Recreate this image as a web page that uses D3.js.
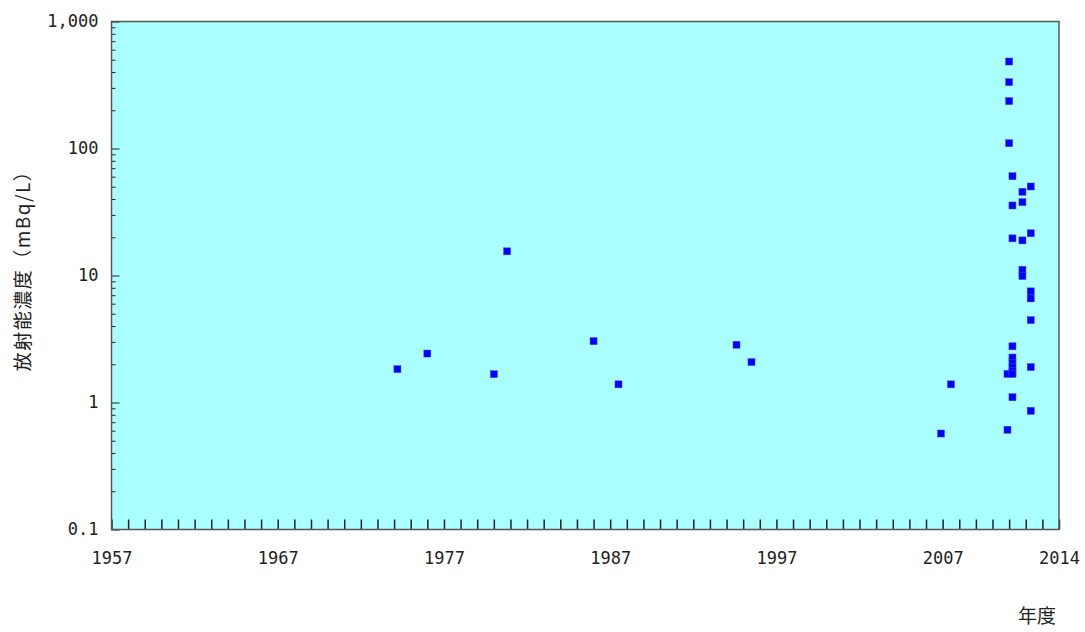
<!DOCTYPE html>
<html>
<head>
<meta charset="utf-8">
<script src="https://cdn.jsdelivr.net/npm/d3@7"></script>
<style>
  body { margin: 0; background: #fff; }
  .num text { font-family: "DejaVu Sans Mono", monospace; font-size: 17px; fill: #222; }
  .jp { font-family: "Noto Sans CJK JP", sans-serif; fill: #222; }
</style>
</head>
<body>
<div id="chart"></div>
<script>
// measurement year (fiscal, decimal) and activity concentration (mBq/L)
const years = [
  1974.2, 1976.0, 1980.0, 1980.8, 1986.0, 1987.5, 1994.6, 1995.5,
  2006.9, 2007.5,
  2010.9, 2010.9,
  2011.0, 2011.0, 2011.0, 2011.0,
  2011.2, 2011.2, 2011.2, 2011.2, 2011.2, 2011.2, 2011.2, 2011.2, 2011.2, 2011.2,
  2011.8, 2011.8, 2011.8, 2011.8, 2011.8,
  2012.3, 2012.3, 2012.3, 2012.3, 2012.3, 2012.3, 2012.3
];
const values = [
  1.83, 2.43, 1.67, 15.5, 3.04, 1.39, 2.85, 2.08,
  0.57, 1.39,
  0.61, 1.68,
  484, 333, 236, 110,
  60.5, 35.6, 19.6, 2.77, 2.26, 2.05, 1.9, 1.76, 1.68, 1.1,
  45.6, 37.8, 18.9, 11.1, 9.9,
  50.2, 21.5, 7.5, 6.6, 4.45, 1.9, 0.86
];
const xLabelYears = [1957, 1967, 1977, 1987, 1997, 2007, 2014];
const yLabelValues = [0.1, 1, 10, 100, 1000];

const width = 1085, height = 632;
const margin = {top: 21.5, right: 26, bottom: 102.5, left: 111.5};

const svg = d3.select("#chart").append("svg")
    .attr("width", width)
    .attr("height", height);

const x = d3.scaleLinear()
    .domain([1957, 2014])
    .range([margin.left, width - margin.right]);

const y = d3.scaleLog()
    .domain([0.1, 1000])
    .range([height - margin.bottom, margin.top]);

// plot background
svg.append("rect")
    .attr("x", margin.left)
    .attr("y", margin.top)
    .attr("width", width - margin.right - margin.left)
    .attr("height", height - margin.bottom - margin.top)
    .attr("fill", "#aaffff");

// minor y ticks (2..9 in each decade)
const minorVals = [];
for (let p = -1; p < 3; p++) {
    for (let m = 2; m <= 9; m++) minorVals.push(m * Math.pow(10, p));
}
svg.append("g")
    .attr("transform", `translate(${margin.left},0)`)
    .call(d3.axisLeft(y).tickValues(minorVals).tickSize(-4).tickFormat(""))
    .call(g => g.select(".domain").remove())
    .selectAll("line").attr("stroke", "#222");

// major y ticks with labels
svg.append("g")
    .attr("class", "num")
    .attr("transform", `translate(${margin.left},0)`)
    .call(d3.axisLeft(y).tickValues(yLabelValues).tickSize(-8).tickPadding(13)
        .tickFormat(d => d >= 1 ? d3.format(",")(d) : d))
    .call(g => g.select(".domain").remove())
    .call(g => g.selectAll("line").attr("stroke", "#222"))
    .call(g => g.selectAll("text").attr("font-family", null).attr("font-size", null));

// yearly x ticks pointing inward
svg.append("g")
    .attr("transform", `translate(0,${height - margin.bottom})`)
    .call(d3.axisBottom(x).tickValues(d3.range(1957, 2015)).tickSize(-10).tickFormat(""))
    .call(g => g.select(".domain").remove())
    .selectAll("line").attr("stroke", "#222").attr("stroke-width", 1.5);

// x labels
svg.append("g")
    .attr("class", "num")
    .attr("transform", `translate(0,${height - margin.bottom})`)
    .call(d3.axisBottom(x).tickValues(xLabelYears).tickSize(0).tickPadding(22).tickFormat(d3.format("d")))
    .call(g => g.select(".domain").remove())
    .call(g => g.selectAll("text").attr("font-family", null).attr("font-size", null));

// frame
svg.append("rect")
    .attr("x", margin.left)
    .attr("y", margin.top)
    .attr("width", width - margin.right - margin.left)
    .attr("height", height - margin.bottom - margin.top)
    .attr("fill", "none")
    .attr("stroke", "#555")
    .attr("stroke-width", 1.5);

// data points
const pts = years.map((yr, i) => ({yr: yr, v: values[i]}));
const s = 7;
svg.append("g")
    .selectAll("rect")
    .data(pts)
    .join("rect")
    .attr("x", d => x(d.yr) - s / 2)
    .attr("y", d => y(d.v) - s / 2)
    .attr("width", s)
    .attr("height", s)
    .attr("fill", "#0000ff")
    .attr("stroke", "#4040ff")
    .attr("stroke-width", 0.5);

// axis titles
svg.append("text")
    .attr("class", "jp")
    .attr("transform", "translate(30,266) rotate(-90)")
    .attr("text-anchor", "middle")
    .attr("font-size", 19)
    .attr("letter-spacing", 1.5)
    .text("放射能濃度（mBq/L）");

svg.append("text")
    .attr("class", "jp")
    .attr("x", 1037)
    .attr("y", 623)
    .attr("text-anchor", "middle")
    .attr("font-size", 19)
    .text("年度");
</script>
</body>
</html>
